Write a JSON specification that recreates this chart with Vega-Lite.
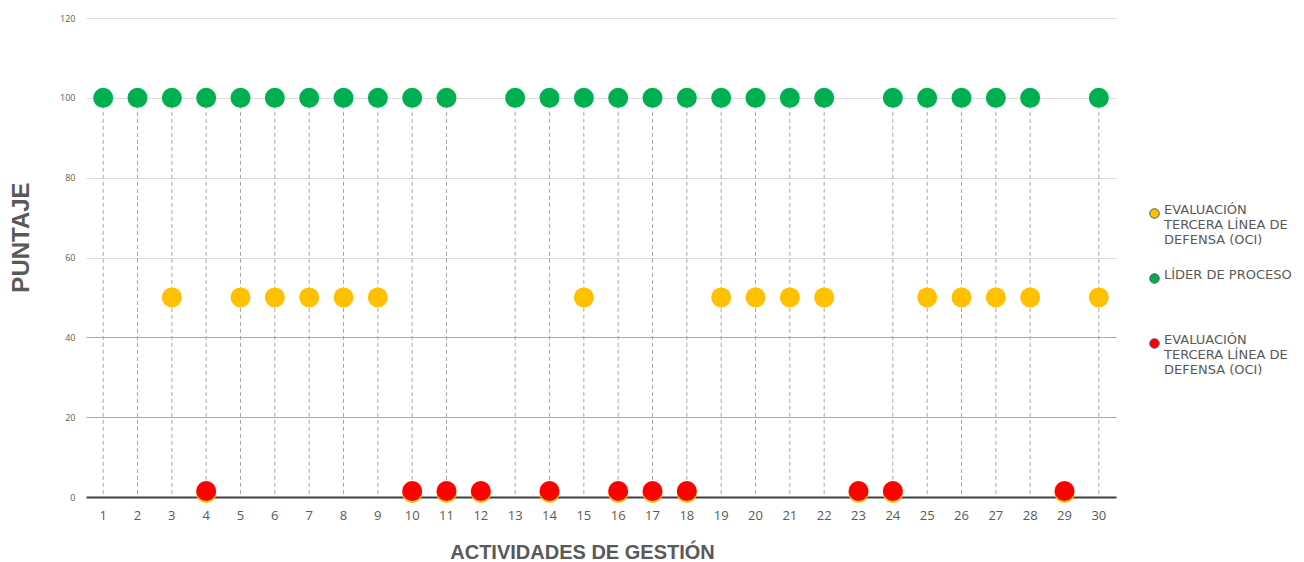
{
  "$schema": "https://vega.github.io/schema/vega-lite/v6.json",
  "width": 1030,
  "height": 479,
  "autosize": "none",
  "padding": {"left": 86, "top": 18, "right": 188, "bottom": 65},
  "background": "white",
  "config": {"view": {"stroke": null}, "font": "Liberation Sans"},
  "data": {"values": [
    {"act": 3, "serie": "Y", "puntaje": 50}, {"act": 5, "serie": "Y", "puntaje": 50}, {"act": 6, "serie": "Y", "puntaje": 50},
    {"act": 7, "serie": "Y", "puntaje": 50}, {"act": 8, "serie": "Y", "puntaje": 50}, {"act": 9, "serie": "Y", "puntaje": 50},
    {"act": 15, "serie": "Y", "puntaje": 50}, {"act": 19, "serie": "Y", "puntaje": 50}, {"act": 20, "serie": "Y", "puntaje": 50},
    {"act": 21, "serie": "Y", "puntaje": 50}, {"act": 22, "serie": "Y", "puntaje": 50}, {"act": 25, "serie": "Y", "puntaje": 50},
    {"act": 26, "serie": "Y", "puntaje": 50}, {"act": 27, "serie": "Y", "puntaje": 50}, {"act": 28, "serie": "Y", "puntaje": 50},
    {"act": 30, "serie": "Y", "puntaje": 50},
    {"act": 4, "serie": "Y", "puntaje": 1}, {"act": 10, "serie": "Y", "puntaje": 1}, {"act": 11, "serie": "Y", "puntaje": 1},
    {"act": 12, "serie": "Y", "puntaje": 1}, {"act": 14, "serie": "Y", "puntaje": 1}, {"act": 16, "serie": "Y", "puntaje": 1},
    {"act": 17, "serie": "Y", "puntaje": 1}, {"act": 18, "serie": "Y", "puntaje": 1}, {"act": 23, "serie": "Y", "puntaje": 1},
    {"act": 24, "serie": "Y", "puntaje": 1}, {"act": 29, "serie": "Y", "puntaje": 1},
    {"act": 1, "serie": "G", "puntaje": 100}, {"act": 2, "serie": "G", "puntaje": 100}, {"act": 3, "serie": "G", "puntaje": 100},
    {"act": 4, "serie": "G", "puntaje": 100}, {"act": 5, "serie": "G", "puntaje": 100}, {"act": 6, "serie": "G", "puntaje": 100},
    {"act": 7, "serie": "G", "puntaje": 100}, {"act": 8, "serie": "G", "puntaje": 100}, {"act": 9, "serie": "G", "puntaje": 100},
    {"act": 10, "serie": "G", "puntaje": 100}, {"act": 11, "serie": "G", "puntaje": 100}, {"act": 13, "serie": "G", "puntaje": 100},
    {"act": 14, "serie": "G", "puntaje": 100}, {"act": 15, "serie": "G", "puntaje": 100}, {"act": 16, "serie": "G", "puntaje": 100},
    {"act": 17, "serie": "G", "puntaje": 100}, {"act": 18, "serie": "G", "puntaje": 100}, {"act": 19, "serie": "G", "puntaje": 100},
    {"act": 20, "serie": "G", "puntaje": 100}, {"act": 21, "serie": "G", "puntaje": 100}, {"act": 22, "serie": "G", "puntaje": 100},
    {"act": 24, "serie": "G", "puntaje": 100}, {"act": 25, "serie": "G", "puntaje": 100}, {"act": 26, "serie": "G", "puntaje": 100},
    {"act": 27, "serie": "G", "puntaje": 100}, {"act": 28, "serie": "G", "puntaje": 100}, {"act": 30, "serie": "G", "puntaje": 100},
    {"act": 4, "serie": "R", "puntaje": 1.5}, {"act": 10, "serie": "R", "puntaje": 1.5}, {"act": 11, "serie": "R", "puntaje": 1.5},
    {"act": 12, "serie": "R", "puntaje": 1.5}, {"act": 14, "serie": "R", "puntaje": 1.5}, {"act": 16, "serie": "R", "puntaje": 1.5},
    {"act": 17, "serie": "R", "puntaje": 1.5}, {"act": 18, "serie": "R", "puntaje": 1.5}, {"act": 23, "serie": "R", "puntaje": 1.5},
    {"act": 24, "serie": "R", "puntaje": 1.5}, {"act": 29, "serie": "R", "puntaje": 1.5}
  ]},
  "encoding": {
    "x": {
      "field": "act", "type": "ordinal",
      "scale": {"domain": [1,2,3,4,5,6,7,8,9,10,11,12,13,14,15,16,17,18,19,20,21,22,23,24,25,26,27,28,29,30], "paddingInner": 0, "paddingOuter": 0},
      "axis": {
        "title": "ACTIVIDADES DE GESTIÓN", "titleFont": "Liberation Sans", "titleFontSize": 20, "titleFontWeight": "bold", "titleColor": "#595959", "titlePadding": 20, "titleX": 496,
        "labelAngle": 0, "labelFont": "Open Sans", "labelFontSize": 13, "labelColor": "#595959", "labelPadding": 12,
        "ticks": false, "domainColor": "#404040", "domainWidth": 2, "grid": false, "zindex": 0
      }
    },
    "y": {
      "field": "puntaje", "type": "quantitative",
      "scale": {"domain": [0, 120], "nice": false},
      "axis": {
        "title": "PUNTAJE", "titleFont": "Liberation Sans", "titleFontSize": 24, "titleFontWeight": "bold", "titleColor": "#595959", "titlePadding": 26, "titleY": 219,
        "values": [0, 20, 40, 60, 80, 100, 120], "labelFont": "Open Sans", "labelFontSize": 9, "labelColor": "#595959", "labelPadding": 11,
        "ticks": false, "domain": false, "grid": true,
        "gridColor": {"condition": {"test": "datum.value <= 40", "value": "#aaaaaa"}, "value": "#dddddd"}
      }
    }
  },
  "layer": [
    {
      "transform": [{"filter": "datum.serie == 'G'"}],
      "mark": {"type": "rule", "strokeDash": [4, 3], "color": "#a6a6a6", "strokeWidth": 1},
      "encoding": {"y2": {"datum": 0}}
    },
    {
      "mark": {"type": "circle", "opacity": 1, "size": 400},
      "encoding": {
        "color": {
          "field": "serie", "type": "nominal",
          "scale": {"domain": ["Y", "G", "R"], "range": ["#ffc000", "#00b050", "#ff0000"]},
          "legend": {
            "title": null, "orient": "none", "legendX": 1062, "legendY": 189,
            "symbolType": "circle", "symbolSize": 90, "symbolStrokeColor": "#44546a", "symbolStrokeWidth": 1,
            "labelFont": "DejaVu Sans", "labelFontSize": 13, "labelColor": "#595959", "labelLimit": 200,
            "rowPadding": 21, "labelBaseline": "alphabetic", "labelOffset": 3,
            "labelExpr": "datum.value == 'G' ? ['LÍDER DE PROCESO', '', ''] : ['EVALUACIÓN', 'TERCERA LÍNEA DE', 'DEFENSA (OCI)']",
            "encode": {"labels": {"update": {"lineHeight": {"value": 16.5}}}}
          }
        }
      }
    }
  ]
}
